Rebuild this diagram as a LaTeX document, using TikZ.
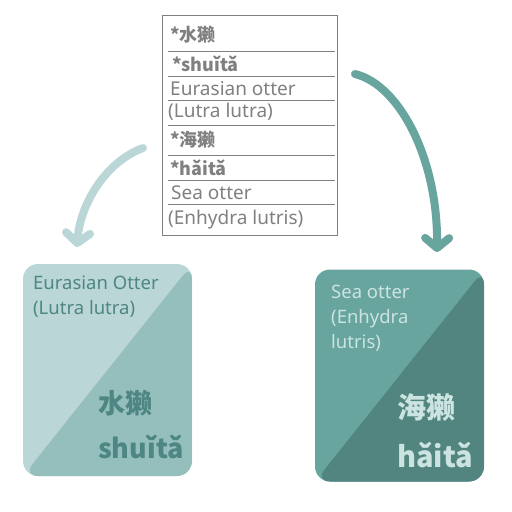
\documentclass[tikz,border=0pt]{standalone}
\usepackage{fontspec}
\setmainfont{Noto Sans}
\newfontfamily\cjk{Noto Sans CJK SC}
\usepackage{tikz}
\usetikzlibrary{positioning,arrows.meta}
\definecolor{mistlight}{HTML}{BAD6D6}
\definecolor{mistdark}{HTML}{95BFBD}
\definecolor{mistink}{HTML}{4E8683}
\definecolor{sealight}{HTML}{68A59F}
\definecolor{seadark}{HTML}{52857F}
\definecolor{seaink}{HTML}{CBE3E1}
\definecolor{rowgray}{HTML}{808080}

\begin{document}
\begin{tikzpicture}[x=1pt, y=-1pt,
  row/.style={anchor=west, inner sep=0pt, text=rowgray, font=\fontsize{19}{21}\selectfont},
  boldrow/.style={row, font=\cjk\fontsize{18}{21}\selectfont\bfseries},
  rule/.style={draw=rowgray, line width=0.8pt},
  card/.style={rounded corners=15pt, minimum width=169pt, minimum height=212pt, inner sep=0pt},
  cardtext/.style={anchor=west, inner sep=0pt, align=left, font=\fontsize{18.5}{25}\selectfont},
  bigtext/.style={anchor=base west, inner sep=0pt, font=\cjk\fontsize{27}{30}\selectfont\bfseries},
  curvearrow/.style={line width=8pt, line cap=round, -{Straight Barb[length=10pt,width=24pt,round]}}]

\useasboundingbox (0,0) rectangle (512,512);

\node[draw=rowgray, line width=0.8pt, minimum width=175pt, minimum height=220pt, inner sep=0pt] (tbl) at (249.5,125) {};
\foreach \y in {51,76,100,125,155,180,204}
  \draw[rule] (168,\y) -- (335,\y);

\node[boldrow] (r1) at (170,35) {*水獭};
\node[boldrow] (r2) at (172,64) {*shuǐtǎ};
\node[row] (r3) at (170,89) {Eurasian otter};
\node[row] (r4) at (168,112) {(Lutra lutra)};
\node[boldrow] (r5) at (170,140) {*海獭};
\node[boldrow] (r6) at (170,168) {*hǎitǎ};
\node[row] (r7) at (171,193) {Sea otter};
\node[row] (r8) at (168,220) {(Enhydra lutris)};

\node[card, fill=mistlight, path picture={
  \fill[mistdark] (path picture bounding box.north east) -- (path picture bounding box.south east)
    -- (path picture bounding box.south west) -- cycle;}] (eurasian) at (107.5,370) {};
\node[card, fill=sealight, path picture={
  \fill[seadark] (path picture bounding box.north east) -- (path picture bounding box.south east)
    -- (path picture bounding box.south west) -- cycle;}] (sea) at (399.5,375.5) {};

\node[cardtext, text=mistink] (eurname) at (33,297) {Eurasian Otter\\(Lutra lutra)};
\node[bigtext, text=mistink] (eurhan) at (98,413) {水獭};
\node[bigtext, text=mistink] (eurpin) at (98,458) {shuǐtǎ};

\node[cardtext, text=seaink] (seaname) at (331,318) {Sea otter\\(Enhydra\\lutris)};
\node[bigtext, text=seaink, font=\cjk\fontsize{29}{30}\selectfont\bfseries] (seahan) at (397,418) {海獭};
\node[bigtext, text=seaink, font=\cjk\fontsize{29}{30}\selectfont\bfseries] (seapin) at (397,467) {hǎitǎ};

\coordinate (lstart) at (143,148);
\coordinate (lend) at (77,247);
\coordinate (rstart) at (355,74);
\coordinate (rend) at (437,252);
\draw[curvearrow, draw=mistlight] (lstart) .. controls (105,162) and (80,205) .. (lend);
\draw[curvearrow, draw=sealight] (rstart) .. controls (400,85) and (438,160) .. (rend);

\end{tikzpicture}
\end{document}
